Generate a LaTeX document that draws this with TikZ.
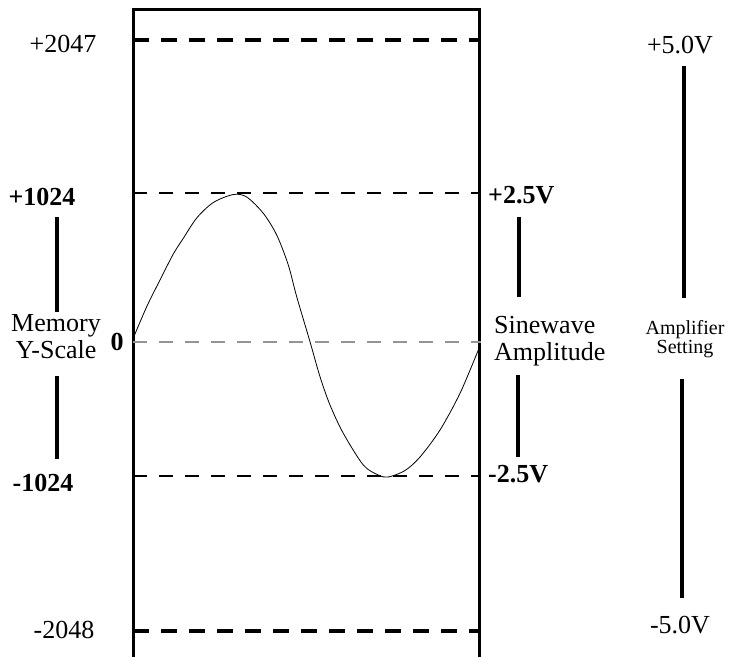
\documentclass[tikz,border=0pt]{standalone}
\usepackage{fontspec}
\setmainfont{Liberation Serif}
\begin{document}
\begin{tikzpicture}[x=1pt,y=-1pt,
  boxline/.style={line width=3pt,line cap=butt},
  thickdash/.style={line width=3.2pt,dash pattern=on 16pt off 12pt},
  thindash/.style={line width=2.2pt,dash pattern=on 14pt off 12pt},
  graydash/.style={line width=2.8pt,color=black!42,dash pattern=on 14pt off 12pt},
  tick/.style={line width=3.2pt},
  lbl/.style={inner sep=0pt,font=\fontsize{26}{27}\selectfont},
  blbl/.style={inner sep=0pt,font=\fontsize{26}{27}\selectfont\bfseries},
  slbl/.style={inner sep=0pt,font=\fontsize{20}{19.5}\selectfont,align=center}]
\useasboundingbox (0,0) rectangle (730,657);
% box
\coordinate (bl) at (133,657);
\coordinate (tl) at (133,9);
\coordinate (tr) at (479,9);
\coordinate (br) at (479,657);
\draw[boxline] (bl) -- (tl) -- (tr) -- (br);
% level lines
\coordinate (a1) at (133,40);  \coordinate (a2) at (479,40);
\coordinate (b1) at (133,193); \coordinate (b2) at (479,193);
\coordinate (c1) at (133,342); \coordinate (c2) at (481,342);
\coordinate (d1) at (133,476); \coordinate (d2) at (479,476);
\coordinate (e1) at (133,631); \coordinate (e2) at (479,631);
\draw[thickdash] (a1) -- (a2);
\draw[thindash] (b1) -- (b2);
\draw[graydash] (c1) -- (c2);
\draw[thindash] (d1) -- (d2);
\draw[thickdash] (e1) -- (e2);
% sine wave
\draw[line width=0.8pt] plot[smooth,tension=0.5] coordinates {
 (133.3,338) (146.7,306.7) (160,280) (173.3,254) (183.3,238.3) (196.7,218) (213.3,202.5) (233.3,194.5) (246.7,197) (263.3,213.3) (276.7,235) (288.3,265) (296.7,296.7) (310,341.7) (320,376.7) (330,405) (343.3,433.3) (363.3,465) (378.3,475) (388.3,477) (405,470.5) (420,457) (440,430) (460,393.3) (478.3,350)};
% left labels
\node[lbl,anchor=base] (p2047) at (63,52) {+2047};
\node[blbl,anchor=base] (p1024) at (42,205) {+1024};
\node[lbl,align=center] (mem) at (56,337) {Memory\\Y-Scale};
\node[blbl,anchor=base] (zero) at (117,350) {0};
\node[blbl,anchor=base] (m1024) at (43,491) {-1024};
\node[lbl,anchor=base] (m2048) at (64,638) {-2048};
\coordinate (l1) at (57,217); \coordinate (l2) at (57,312);
\coordinate (l3) at (57,376); \coordinate (l4) at (57,459);
\draw[tick] (l1) -- (l2);
\draw[tick] (l3) -- (l4);
% middle-right labels
\node[blbl,anchor=base west] (p25) at (488,203) {+2.5V};
\node[lbl,align=left,anchor=west] (sine) at (494,341) {Sinewave\\Amplitude};
\node[blbl,anchor=base west] (m25) at (488,482) {-2.5V};
\coordinate (s1) at (519,217); \coordinate (s2) at (519,297);
\coordinate (s3) at (518,375); \coordinate (s4) at (518,457);
\draw[tick] (s1) -- (s2);
\draw[tick] (s3) -- (s4);
% far right labels
\node[lbl,anchor=base] (p50) at (680,53) {+5.0V};
\node[slbl] (amp) at (685,339) {Amplifier\\Setting};
\node[lbl,anchor=base] (m50) at (680,633) {-5.0V};
\coordinate (r1) at (684,66); \coordinate (r2) at (684,298);
\coordinate (r3) at (682,379); \coordinate (r4) at (682,598);
\draw[tick] (r1) -- (r2);
\draw[tick] (r3) -- (r4);
\end{tikzpicture}
\end{document}
